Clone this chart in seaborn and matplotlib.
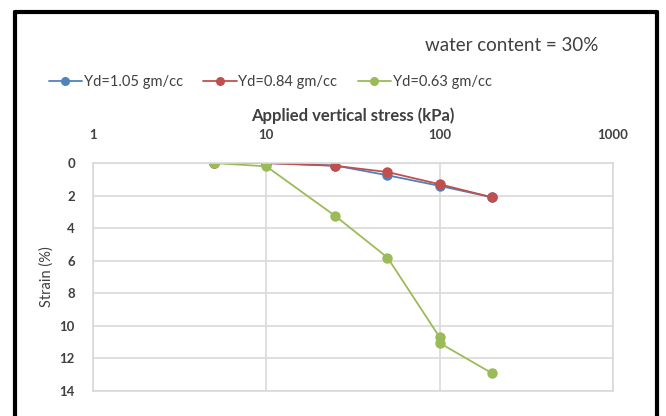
import numpy as np
import pandas as pd
import matplotlib
matplotlib.use("Agg")
import matplotlib.pyplot as plt
import seaborn as sns
from matplotlib.lines import Line2D

sns.set_style("white")
plt.rcParams['font.family'] = ['Lato', 'DejaVu Sans']

# data
stress_105 = [5, 10, 25, 50, 100, 200]
strain_105 = [0.0, 0.0, 0.15, 0.75, 1.4, 2.1]
stress_084 = [5, 10, 25, 50, 100, 200]
strain_084 = [0.0, 0.0, 0.17, 0.55, 1.3, 2.1]
stress_063 = [5, 10, 25, 50, 100, 100, 200]
strain_063 = [0.0, 0.2, 3.25, 5.8, 10.7, 11.05, 12.9]
labels = ["Yd=1.05 gm/cc", "Yd=0.84 gm/cc", "Yd=0.63 gm/cc"]
colors = ["#4F81BD", "#C0504D", "#9BBB59"]
x_ticks = [1, 10, 100, 1000]
y_ticks = [0, 2, 4, 6, 8, 10, 12, 14]

frames = []
for lab, xs, ys in zip(labels, [stress_105, stress_084, stress_063],
                       [strain_105, strain_084, strain_063]):
    frames.append(pd.DataFrame({"stress": xs, "strain": ys, "series": lab}))
df = pd.concat(frames, ignore_index=True)

fig = plt.figure(figsize=(6.66, 4.16), dpi=100)
ax = fig.add_axes([0.1396, 0.060, 0.7808, 0.548])

sns.lineplot(data=df, x="stress", y="strain", hue="series", palette=colors,
             estimator=None, sort=False, marker="o", markersize=7.5,
             markeredgewidth=0, linewidth=1.3, ax=ax, legend=False)

ax.set_xscale("log")
ax.set_xlim(1, 1000)
ax.set_ylim(14, 0)
ax.set_xticks(x_ticks)
ax.set_xticklabels([str(t) for t in x_ticks])
ax.minorticks_off()
ax.set_yticks(y_ticks)
ax.xaxis.tick_top()
ax.xaxis.set_label_position("top")
ax.tick_params(length=0, labelsize=9.5, colors="#404040")
ax.tick_params(axis="x", pad=16)
ax.tick_params(axis="y", pad=13)
for lbl in ax.get_xticklabels() + ax.get_yticklabels():
    lbl.set_fontweight("bold")
ax.grid(True, color="#D9D9D9", linewidth=1.2)
for s in ax.spines.values():
    s.set_color("#D9D9D9")
    s.set_linewidth(1.2)

ax.set_xlabel("Applied vertical stress (kPa)", fontsize=12, fontweight="bold",
              color="#404040", labelpad=6)
ax.set_ylabel("Strain (%)", fontsize=10.5, color="#404040", labelpad=4)

fig.text(0.898, 0.89, "water content = 30%", fontsize=13.5, color="#404040",
         ha="right", va="center")

handles = [Line2D([0], [0], color=c, marker="o", markersize=6.5, markeredgewidth=0,
                  linewidth=1.3) for c in colors]
fig.legend(handles, labels, loc="center left", bbox_to_anchor=(0.073, 0.802),
           ncol=3, frameon=False, fontsize=10.5, handlelength=2.3,
           handletextpad=0.1, columnspacing=1.4, labelcolor="#404040",
           borderpad=0, borderaxespad=0)

# outer black frame
fig.add_artist(Line2D([0.022, 0.022], [0, 0.972], color="black", linewidth=3,
                      transform=fig.transFigure))
fig.add_artist(Line2D([0.022, 0.987], [0.972, 0.972], color="black", linewidth=3,
                      transform=fig.transFigure))
fig.add_artist(Line2D([0.987, 0.987], [0, 0.972], color="black", linewidth=3,
                      transform=fig.transFigure))

fig.savefig("out.png", dpi=100)
